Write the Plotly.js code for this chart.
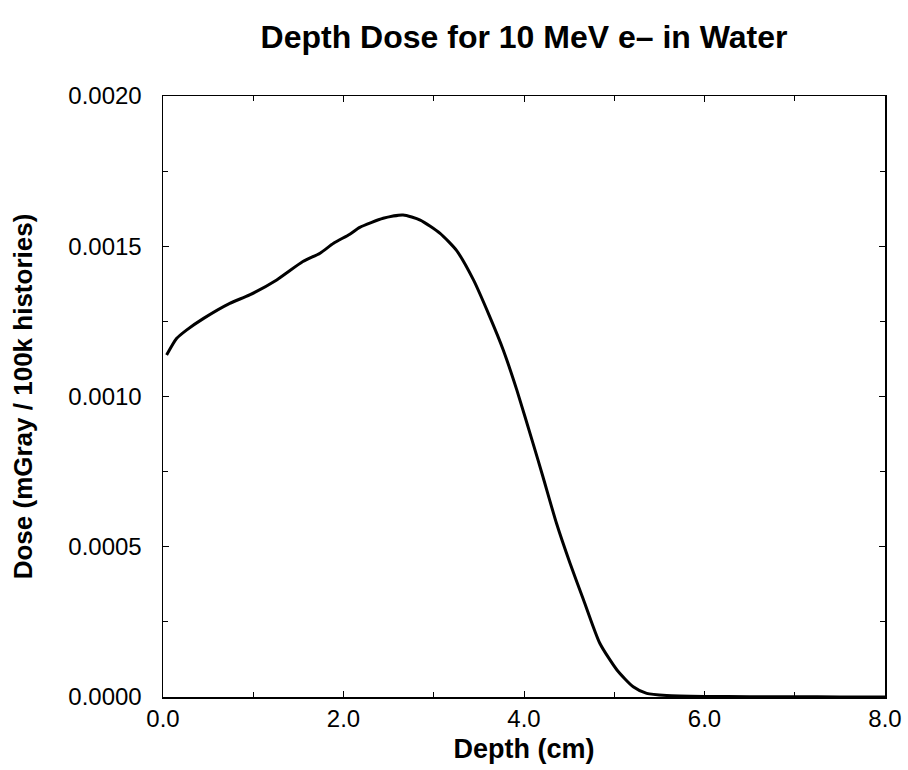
<!DOCTYPE html>
<html>
<head>
<meta charset="utf-8">
<script src="https://cdn.plot.ly/plotly-3.0.1.min.js"></script>
<style>html,body{margin:0;padding:0;background:#fff;}#chart{width:908px;height:770px;}</style>
</head>
<body>
<div id="chart"></div>
<script>
const depth = [0.04, 0.15, 0.26, 0.45, 0.74, 0.96, 1.26, 1.55, 1.74, 1.89, 2.07, 2.18, 2.44, 2.66, 2.85, 3.07, 3.25, 3.44, 3.62, 3.77, 3.92, 4.10, 4.21, 4.36, 4.51, 4.66, 4.84, 5.03, 5.21, 5.36, 5.58, 6.0, 6.5, 7.0, 7.5, 8.0];
const dose = [0.001138, 0.001193, 0.001221, 0.00126, 0.00131, 0.001338, 0.001388, 0.001449, 0.001477, 0.00151, 0.001540, 0.001563, 0.001593, 0.001604, 0.001587, 0.001543, 0.001487, 0.001388, 0.001266, 0.001155, 0.001022, 0.000844, 0.000733, 0.000578, 0.000445, 0.000323, 0.000179, 0.00009, 0.000034, 0.000012, 0.000005, 0.000002, 0.000001, 0.000001, 0.0, 0.0];
const xTicks = [0, 2, 4, 6, 8];
const xTickText = ["0.0", "2.0", "4.0", "6.0", "8.0"];
const yTicks = [0, 0.0005, 0.001, 0.0015, 0.002];
const yTickText = ["0.0000", "0.0005", "0.0010", "0.0015", "0.0020"];

const font = "Liberation Sans, Arial, Helvetica, sans-serif";
const trace = {
  x: depth, y: dose, type: 'scatter', mode: 'lines',
  line: {color: '#000', width: 3, shape: 'spline', smoothing: 0.6},
  hoverinfo: 'skip'
};
const layout = {
  width: 908, height: 770,
  margin: {l: 163, r: 23, t: 96, b: 73},
  paper_bgcolor: '#fff', plot_bgcolor: '#fff',
  showlegend: false,
  title: {text: '<b>Depth Dose for 10 MeV e\u2013 in Water</b>', font: {family: font, size: 32, color: '#000'},
          x: 0.5, xref: 'paper', y: 0.952, yref: 'container', yanchor: 'middle'},
  xaxis: {
    range: [0, 8], tickvals: xTicks, ticktext: xTickText,
    ticks: 'inside', ticklen: 6, tickcolor: '#000',
    minor: {dtick: 1, tick0: 0, ticks: 'inside', ticklen: 5, tickcolor: '#000'},
    showline: true, linecolor: '#000', linewidth: 1.5, mirror: 'ticks',
    showgrid: false, zeroline: false,
    tickfont: {family: font, size: 24, color: '#000'},
    title: {text: '<b>Depth (cm)</b>', font: {family: font, size: 27, color: '#000'}, standoff: 8}
  },
  yaxis: {
    range: [0, 0.002], tickvals: yTicks, ticktext: yTickText,
    ticks: 'inside', ticklen: 6, tickcolor: '#000',
    minor: {dtick: 0.00025, tick0: 0, ticks: 'inside', ticklen: 5, tickcolor: '#000'},
    showline: true, linecolor: '#000', linewidth: 1.5, mirror: 'ticks',
    showgrid: false, zeroline: false,
    ticklabelstandoff: 15,
    tickfont: {family: font, size: 24, color: '#000'},
    title: {text: '<b>Dose (mGray / 100k histories)</b>', font: {family: font, size: 26, color: '#000'}, standoff: 28}
  }
};
Plotly.newPlot('chart', [trace], layout, {displayModeBar: false, staticPlot: true});
</script>
</body>
</html>
